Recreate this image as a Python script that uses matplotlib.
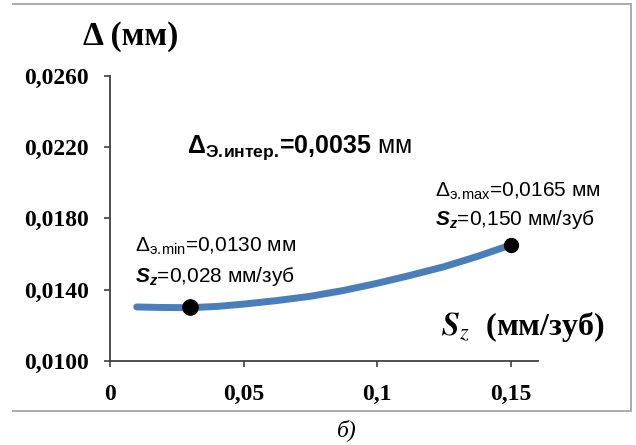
import matplotlib
matplotlib.use("Agg")
import matplotlib.pyplot as plt
from matplotlib.lines import Line2D

plt.rcParams['mathtext.fontset'] = 'custom'
plt.rcParams['mathtext.rm'] = 'Liberation Sans'
plt.rcParams['mathtext.it'] = 'Liberation Sans:italic'
plt.rcParams['mathtext.bf'] = 'Liberation Sans:bold'
plt.rcParams['mathtext.bfit'] = 'Liberation Sans:bold:italic'

# ---- data ----
sz = [0.010, 0.020, 0.030, 0.040, 0.050, 0.0625, 0.075, 0.0875,
      0.100, 0.1125, 0.125, 0.1375, 0.150]
delta = [0.01302, 0.01299, 0.01298, 0.01305, 0.01318, 0.01338, 0.01362,
         0.01395, 0.01435, 0.01480, 0.01528, 0.01586, 0.01650]
min_point = (0.030, 0.0130)
max_point = (0.150, 0.0165)
x_ticks = [0, 0.05, 0.10, 0.15]
x_tick_labels = ["0", "0,05", "0,1", "0,15"]
y_ticks = [0.0100, 0.0140, 0.0180, 0.0220, 0.0260]
y_tick_labels = ["0,0100", "0,0140", "0,0180", "0,0220", "0,0260"]

W, H = 636, 445
fig = plt.figure(figsize=(W / 100, H / 100), dpi=100)
fig.patch.set_facecolor('white')

def fx(px):
    return px / W

def fy(py):
    return 1 - py / H

ax = fig.add_axes([fx(110), fy(360.7), fx(538) - fx(110), fy(76) - fy(360.7)])
ax.plot(sz, delta, color='#4a7ebb', lw=5, solid_capstyle='round', zorder=2)
ax.plot([min_point[0]], [min_point[1]], 'o', color='black', ms=11, zorder=3)
ax.plot([max_point[0]], [max_point[1]], 'o', color='black', ms=10, zorder=3)

ax.set_xlim(0, 0.1602)
ax.set_ylim(0.0100, 0.0260)
ax.set_xticks(x_ticks)
ax.set_xticklabels(x_tick_labels)
ax.set_yticks(y_ticks)
ax.set_yticklabels(y_tick_labels)
for lab in ax.get_xticklabels() + ax.get_yticklabels():
    lab.set_fontfamily('Liberation Serif')
    lab.set_fontweight('bold')
    lab.set_fontsize(17)
ax.tick_params(axis='both', direction='out', length=4, width=1.2, color='#404040')
ax.tick_params(axis='y', pad=11)
ax.tick_params(axis='x', pad=13)
for s in ['top', 'right']:
    ax.spines[s].set_visible(False)
for s in ['left', 'bottom']:
    ax.spines[s].set_color('#404040')
    ax.spines[s].set_linewidth(1.3)
ax.patch.set_alpha(0)

# frame (top, right, bottom)
fc = '#ababab'
fig.add_artist(Line2D([fx(13), fx(631)], [fy(4), fy(4)], color=fc, lw=1.4))
fig.add_artist(Line2D([fx(631), fx(631)], [fy(4), fy(410.5)], color=fc, lw=1.4))
fig.add_artist(Line2D([fx(13), fx(631)], [fy(410.5), fy(410.5)], color=fc, lw=1.4))

# texts
fig.text(fx(83), fy(45), "Δ (мм)", fontfamily='Liberation Serif', fontweight='bold',
         fontsize=24, va='baseline', ha='left')

fig.text(fx(187), fy(153), r"Δ$_{\mathbf{Э.\!интер.\!}}$=0,0035$\mathrm{\ мм}$",
         fontfamily='Liberation Sans', fontweight='bold', fontsize=18,
         va='baseline', ha='left')

fig.text(fx(135), fy(251.7), r"Δ$_{\mathrm{э.\!min}}$=0,0130 мм",
         fontfamily='Liberation Sans', fontsize=15, va='baseline', ha='left')
fig.text(fx(135), fy(281.7), r"$\mathbfit{S}_{\mathbfit{z}}$=0,028 мм/зуб",
         fontfamily='Liberation Sans', fontsize=15, va='baseline', ha='left')

fig.text(fx(435), fy(196.7), r"Δ$_{\mathrm{э.\!max}}$=0,0165 мм",
         fontfamily='Liberation Sans', fontsize=15, va='baseline', ha='left')
fig.text(fx(435), fy(225), r"$\mathbfit{S}_{\mathbfit{z}}$=0,150 мм/зуб",
         fontfamily='Liberation Sans', fontsize=15, va='baseline', ha='left')

fig.text(fx(441), fy(335), r"$\mathbfit{S}_{\mathit{z}}$  (мм/зуб)",
         fontfamily='Liberation Serif', fontweight='bold', fontsize=23,
         math_fontfamily='stix', va='baseline', ha='left')

fig.text(fx(337), fy(436), "б)", fontfamily='Liberation Serif', fontstyle='italic',
         fontsize=17, va='baseline', ha='left')

fig.savefig('out.png', dpi=100)
